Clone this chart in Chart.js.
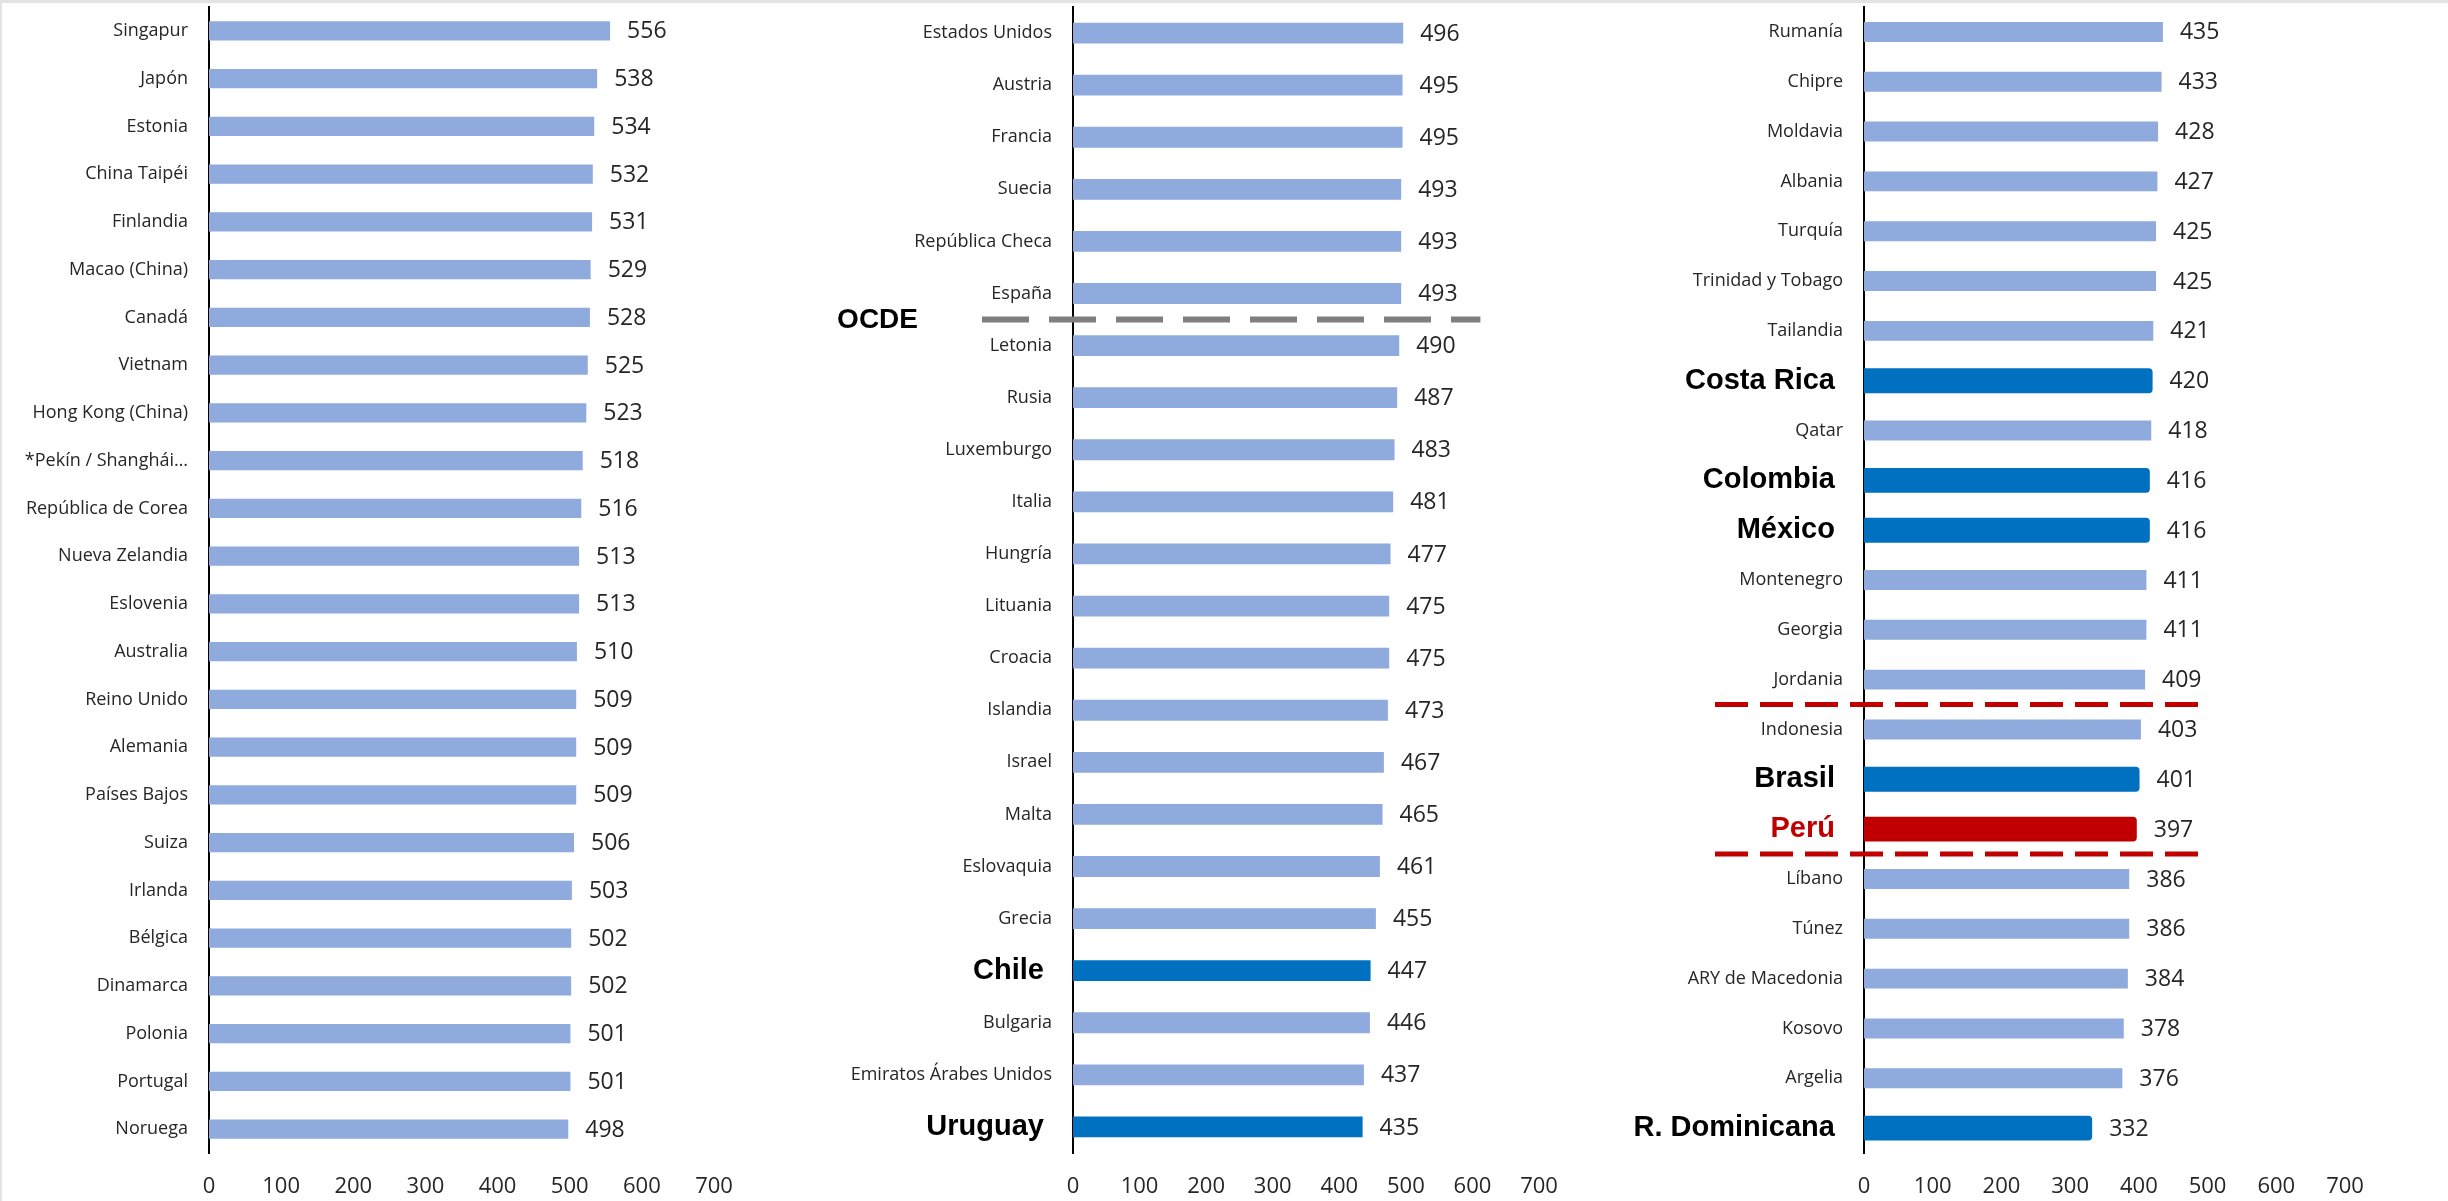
<!DOCTYPE html>
<html lang="es">
<head>
<meta charset="utf-8">
<title>Puntajes por país</title>
<script src="https://cdn.jsdelivr.net/npm/chart.js@4.4.1/dist/chart.umd.min.js"></script>
<style>
  html, body { margin: 0; padding: 0; background: #fff; }
  #wrap { position: relative; width: 2448px; height: 1201px; overflow: hidden; background: #fff; }
  .panel { position: absolute; top: 0; height: 1201px; }
  #frame { position: absolute; left: 0; top: 0; width: 2448px; height: 1201px; box-sizing: border-box;
           border-top: 3px solid #e3e3e3; border-left: 2px solid #e3e3e3; pointer-events: none; }
</style>
</head>
<body>
<div id="wrap">
  <div class="panel" style="left:0px"><canvas id="c1" width="760" height="1201"></canvas></div>
  <div class="panel" style="left:760px"><canvas id="c2" width="820" height="1201"></canvas></div>
  <div class="panel" style="left:1560px"><canvas id="c3" width="888" height="1201"></canvas></div>
  <div id="frame"></div>
</div>
<script>
// datos
const countries1 = ['Singapur', 'Japón', 'Estonia', 'China Taipéi', 'Finlandia', 'Macao (China)', 'Canadá',
  'Vietnam', 'Hong Kong (China)', '*Pekín / Shanghái…', 'República de Corea', 'Nueva Zelandia', 'Eslovenia',
  'Australia', 'Reino Unido', 'Alemania', 'Países Bajos', 'Suiza', 'Irlanda', 'Bélgica', 'Dinamarca',
  'Polonia', 'Portugal', 'Noruega'];
const scores1 = [556, 538, 534, 532, 531, 529, 528, 525, 523, 518, 516, 513, 513, 510, 509, 509, 509, 506,
  503, 502, 502, 501, 501, 498];

const countries2 = ['Estados Unidos', 'Austria', 'Francia', 'Suecia', 'República Checa', 'España', 'Letonia',
  'Rusia', 'Luxemburgo', 'Italia', 'Hungría', 'Lituania', 'Croacia', 'Islandia', 'Israel', 'Malta',
  'Eslovaquia', 'Grecia', 'Chile', 'Bulgaria', 'Emiratos Árabes Unidos', 'Uruguay'];
const scores2 = [496, 495, 495, 493, 493, 493, 490, 487, 483, 481, 477, 475, 475, 473, 467, 465, 461, 455,
  447, 446, 437, 435];

const countries3 = ['Rumanía', 'Chipre', 'Moldavia', 'Albania', 'Turquía', 'Trinidad y Tobago', 'Tailandia',
  'Costa Rica', 'Qatar', 'Colombia', 'México', 'Montenegro', 'Georgia', 'Jordania', 'Indonesia', 'Brasil',
  'Perú', 'Líbano', 'Túnez', 'ARY de Macedonia', 'Kosovo', 'Argelia', 'R. Dominicana'];
const scores3 = [435, 433, 428, 427, 425, 425, 421, 420, 418, 416, 416, 411, 411, 409, 403, 401, 397, 386,
  386, 384, 378, 376, 332];

const highlightBlue = ['Chile', 'Uruguay', 'Costa Rica', 'Colombia', 'México', 'Brasil', 'R. Dominicana'];
const highlightRed = ['Perú'];
const xTicks = [0, 100, 200, 300, 400, 500, 600, 700];

const LIGHT = '#8FAADC';
const BLUE = '#0070C0';
const RED = '#C00000';
const TEXT = '#262626';

const isHighlight = name => highlightBlue.includes(name) || highlightRed.includes(name);

// numeros al final de cada barra
const valueLabels = {
  id: 'valueLabels',
  afterDatasetsDraw(chart) {
    const ctx = chart.ctx;
    ctx.save();
    ctx.font = '23px "Open Sans"';
    ctx.fillStyle = TEXT;
    ctx.textAlign = 'left';
    ctx.textBaseline = 'middle';
    chart.data.datasets.forEach((ds, di) => {
      chart.getDatasetMeta(di).data.forEach((bar, i) => {
        const v = ds.data[i];
        if (v == null) return;
        ctx.fillText(String(v), bar.x + 17, bar.y + 1);
      });
    });
    ctx.restore();
  }
};

// lineas punteadas entre categorias
function makeDividers(lines) {
  return {
    id: 'dividers',
    afterDatasetsDraw(chart) {
      const { ctx, scales: { x, y } } = chart;
      lines.forEach(l => {
        const yy = (y.getPixelForValue(l.after) + y.getPixelForValue(l.after + 1)) / 2;
        const x0 = x.getPixelForValue(0) - l.lead;
        const x1 = x.getPixelForValue(l.to);
        ctx.save();
        ctx.strokeStyle = l.color;
        ctx.lineWidth = l.width;
        ctx.setLineDash(l.dash);
        ctx.beginPath();
        ctx.moveTo(x0, yy);
        ctx.lineTo(x1, yy);
        ctx.stroke();
        if (l.text) {
          ctx.font = 'bold 28px "Liberation Sans", Arial, sans-serif';
          ctx.fillStyle = '#000';
          ctx.textAlign = 'right';
          ctx.textBaseline = 'middle';
          ctx.fillText(l.text, x0 - l.textGap, yy + 1);
        }
        ctx.restore();
      });
    }
  };
}

function buildChart(id, countries, scores, cfg) {
  const normal = scores.map((v, i) => isHighlight(countries[i]) ? null : v);
  const marked = scores.map((v, i) => isHighlight(countries[i]) ? v : null);

  return new Chart(document.getElementById(id), {
    type: 'bar',
    data: {
      labels: countries,
      datasets: [
        {
          data: normal,
          backgroundColor: LIGHT,
          grouped: false,
          categoryPercentage: 1,
          barPercentage: 0.4
        },
        {
          data: marked,
          backgroundColor: c => highlightRed.includes(countries[c.dataIndex]) ? RED : BLUE,
          grouped: false,
          categoryPercentage: 1,
          barPercentage: cfg.hlPercent,
          borderRadius: cfg.hlRadius
        }
      ]
    },
    options: {
      indexAxis: 'y',
      responsive: false,
      animation: false,
      layout: { padding: { top: 7, right: cfg.padRight, bottom: 0, left: 0 } },
      plugins: { legend: { display: false }, tooltip: { enabled: false } },
      scales: {
        x: {
          min: 0,
          max: 700,
          afterBuildTicks: s => { s.ticks = xTicks.map(v => ({ value: v })); },
          afterFit: s => { s.height = 48; },
          grid: { display: false, drawTicks: false },
          border: { display: false },
          ticks: {
            autoSkip: false,
            maxRotation: 0,
            padding: 21,
            color: TEXT,
            font: { family: '"Open Sans"', size: 22 }
          }
        },
        y: {
          afterFit: s => {
            s.width = cfg.axisWidth;
            s.paddingTop = 0;
            s.paddingBottom = 0;
          },
          grid: { display: false, drawTicks: false },
          border: { display: true, color: '#000', width: 2 },
          ticks: {
            autoSkip: false,
            padding: 21,
            callback: function (v) {
              const lab = this.getLabelForValue(v);
              return isHighlight(lab) ? lab + ' ' : lab;
            },
            color: c => {
              const lab = countries[c.index];
              if (highlightRed.includes(lab)) return RED;
              return highlightBlue.includes(lab) ? '#000' : TEXT;
            },
            font: c => isHighlight(countries[c.index])
              ? { family: '"Liberation Sans", Arial, sans-serif', size: 29, weight: 'bold' }
              : { family: '"Open Sans"', size: 18 }
          }
        }
      }
    },
    plugins: [valueLabels, makeDividers(cfg.lines || [])]
  });
}

buildChart('c1', countries1, scores1, { axisWidth: 209, padRight: 46, hlPercent: 0.4, hlRadius: 0 });

buildChart('c2', countries2, scores2, {
  axisWidth: 313, padRight: 41, hlPercent: 0.4, hlRadius: 0,
  lines: [{ after: 5, lead: 91, to: 612, color: '#7F7F7F', width: 6, dash: [47, 20], text: 'OCDE', textGap: 64 }]
});

buildChart('c3', countries3, scores3, {
  axisWidth: 304, padRight: 103, hlPercent: 0.5, hlRadius: 4,
  lines: [
    { after: 13, lead: 149, to: 498, color: RED, width: 5, dash: [33, 12] },
    { after: 16, lead: 149, to: 498, color: RED, width: 5, dash: [33, 12] }
  ]
});
</script>
</body>
</html>
